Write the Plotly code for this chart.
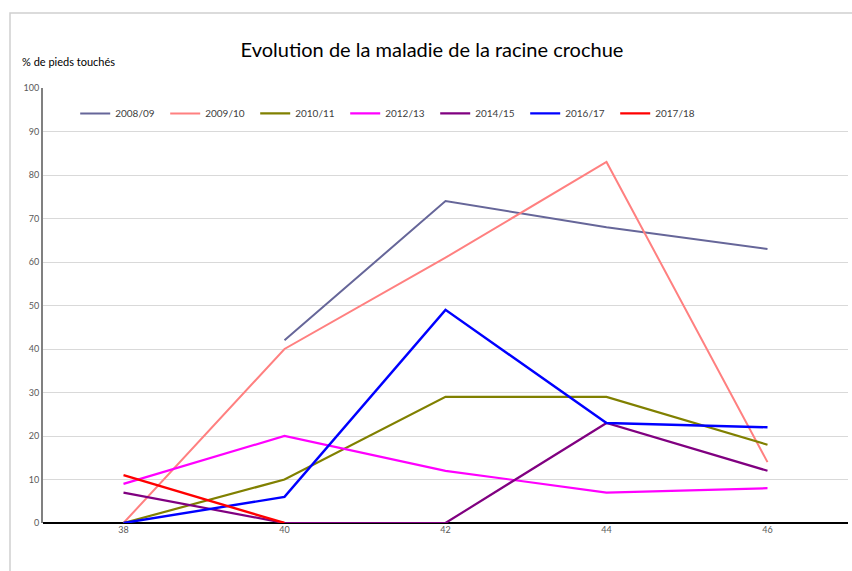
import plotly.graph_objects as go

x_vals = [38, 40, 42, 44, 46]
seasons = ["2008/09", "2009/10", "2010/11", "2012/13", "2014/15", "2016/17", "2017/18"]
v_2008_09 = [None, 42, 74, 68, 63]
v_2009_10 = [0, 40, 61, 83, 14]
v_2010_11 = [0, 10, 29, 29, 18]
v_2012_13 = [9, 20, 12, 7, 8]
v_2014_15 = [7, 0, 0, 23, 12]
v_2016_17 = [0, 6, 49, 23, 22]
v_2017_18 = [11, 0, None, None, None]
y_ticks = [0, 10, 20, 30, 40, 50, 60, 70, 80, 90, 100]

series = [v_2008_09, v_2009_10, v_2010_11, v_2012_13, v_2014_15, v_2016_17, v_2017_18]
colors = ["#666699", "#FF8080", "#808000", "#FF00FF", "#800080", "#0000FF", "#FF0000"]
widths = [2, 2, 2.2, 2.2, 2.2, 2.4, 2.4]

FONT = "Lato, 'Liberation Sans', sans-serif"

fig = go.Figure()
for name, vals, c, w in zip(seasons, series, colors, widths):
    fig.add_trace(go.Scatter(x=x_vals, y=vals, name=name, mode="lines",
                             line=dict(color=c, width=w), connectgaps=False))

fig.update_layout(
    width=852, height=571,
    margin=dict(l=43, r=4, t=88, b=48),
    paper_bgcolor="white", plot_bgcolor="white",
    font=dict(family=FONT, color="#595959", size=9),
    title=dict(text="Evolution de la maladie de la racine crochue",
               x=432/852, xanchor="center", y=1-50/571, yanchor="middle",
               font=dict(family=FONT, size=20, color="#000000")),
    showlegend=True,
    legend=dict(orientation="h", x=0.040, y=0.975, xanchor="left", yanchor="top",
                bgcolor="rgba(0,0,0,0)", entrywidth=45, entrywidthmode="pixels",
                font=dict(family=FONT, size=10, color="#404040"),
                traceorder="normal"),
    xaxis=dict(range=[37, 47], tickvals=x_vals, ticktext=[str(v) for v in x_vals],
               showgrid=False, zeroline=False, showline=False, ticks="",
               tickfont=dict(size=9, color="#595959")),
    yaxis=dict(range=[0, 100], tickvals=y_ticks, showgrid=True, gridcolor="#D9D9D9",
               gridwidth=1, zeroline=True, zerolinecolor="#000000", zerolinewidth=1.5,
               showline=True, linecolor="#808080", linewidth=2, ticks="",
               tickfont=dict(size=9, color="#595959")),
)

# white box behind legend (covers gridlines)
fig.add_shape(type="rect", xref="paper", yref="paper",
              x0=(73-43)/805, x1=(705-43)/805, y0=(523-131)/435, y1=1.0,
              fillcolor="white", line=dict(width=0), layer="between")
# outer chart border
fig.add_shape(type="rect", xref="paper", yref="paper",
              x0=(10-43)/805, x1=(860-43)/805, y0=(523-580)/435, y1=(523-13)/435,
              fillcolor="rgba(0,0,0,0)", line=dict(color="#D0D0D0", width=1.5), layer="below")

fig.add_annotation(text="% de pieds touchés", xref="paper", yref="paper",
                   x=(20-43)/805, y=(523-61)/435, xanchor="left", yanchor="middle",
                   showarrow=False, font=dict(family=FONT, size=11, color="#000000"))

fig.write_html("out.html", config={"displayModeBar": False})

# remove default page margin so the figure sits at the window origin
with open("out.html", "r", encoding="utf-8") as f:
    html = f.read()
html = html.replace("<head>", "<head><style>html,body{margin:0;padding:0;overflow:hidden;}</style>", 1)
with open("out.html", "w", encoding="utf-8") as f:
    f.write(html)
